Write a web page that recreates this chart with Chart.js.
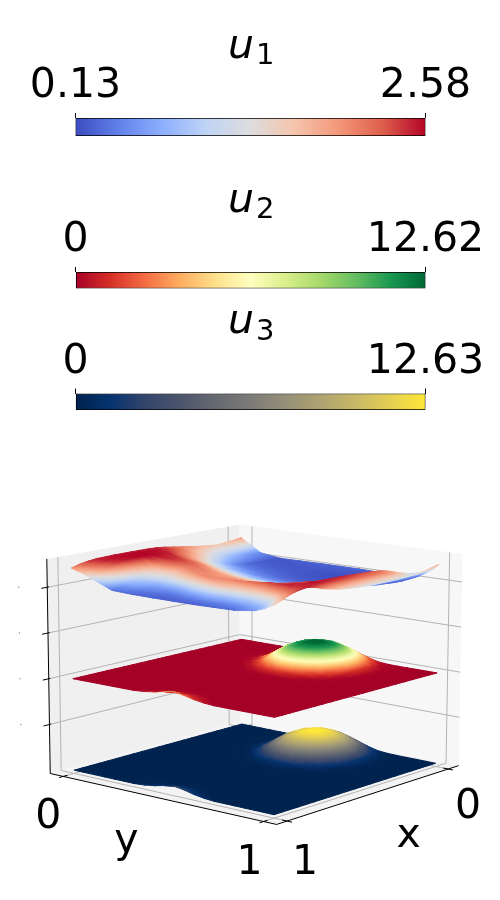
<!DOCTYPE html>
<html>
<head>
<meta charset="utf-8">
<script src="https://cdn.jsdelivr.net/npm/chart.js@4"></script>
<style>
  html, body { margin: 0; background: #fff; }
  canvas { position: absolute; left: 0; }
</style>
</head>
<body>
<canvas id="bar1" width="500" height="140" style="top:0"></canvas>
<canvas id="bar2" width="500" height="130" style="top:165px"></canvas>
<canvas id="bar3" width="500" height="120" style="top:295px"></canvas>
<canvas id="surface" width="500" height="400" style="top:500px"></canvas>
<script>
const barSubs = ['1', '2', '3'];
const barMins = [0.13, 0, 0];
const barMaxs = [2.58, 12.62, 12.63];

const coolwarm = ['#3b4cc0', '#6282ea', '#8db0fe', '#c0d4f5', '#dddddd', '#f5c4ad', '#f4987a', '#de604d', '#b40426'];
const rdYlGn = ['#a50026', '#d73027', '#f46d43', '#fdae61', '#fee08b', '#ffffbf', '#d9ef8b', '#a6d96a', '#66bd63', '#1a9850', '#006837'];
const cividis = ['#00224e', '#05336f', '#34456b', '#4c556c', '#666970', '#7c7b78', '#958f78', '#aea371', '#c8b866', '#e5cf52', '#fee838'];

const gridX = [0, .05, .1, .15, .2, .25, .3, .35, .4, .45, .5, .55, .6, .65, .7, .75, .8, .85, .9, .95, 1];
const gridY = [0, .05, .1, .15, .2, .25, .3, .35, .4, .45, .5, .55, .6, .65, .7, .75, .8, .85, .9, .95, 1];
const gridY1 = [0, .05, .1, .2, .3, .4, .5, .6, .7, .8, .9, .95, .975, 1];

// rows run along gridX, columns along gridY1
const u1 = [
  [1.9, 1.2, .5, .2, .22, .25, .25, .25, .2, .2, .4, 1.05, 1.4, 1.9],
  [1.75, 1.25, .55, .2, .2, .22, .22, .2, .17, .18, .33, 1.1, 1.3, 1.7],
  [1.65, 1.3, .65, .22, .2, .2, .18, .17, .16, .17, .28, 1.15, 1.2, 1.5],
  [1.6, 1.3, .8, .26, .22, .2, .17, .15, .15, .18, .3, 1.4, 1.3, 1.4],
  [1.7, 1.35, .95, .32, .26, .22, .18, .15, .15, .2, .38, 1.7, 1.6, 1.35],
  [1.8, 1.45, 1.1, .45, .32, .26, .2, .17, .16, .22, .45, 2, 1.85, 1.3],
  [1.95, 1.65, 1.35, .65, .42, .32, .24, .2, .18, .28, .58, 2.2, 2, 1.3],
  [2.1, 1.85, 1.6, .9, .6, .42, .3, .26, .22, .36, .75, 2.3, 2.1, 1.3],
  [2.25, 2.1, 1.85, 1.2, .8, .55, .42, .36, .32, .48, .98, 2.35, 2.15, 1.3],
  [2.4, 2.3, 2.1, 1.5, 1.05, .8, .6, .5, .45, .65, 1.2, 2.4, 2.2, 1.35],
  [2.5, 2.45, 2.3, 1.85, 1.35, 1.05, .82, .7, .62, .85, 1.5, 2.45, 2.3, 1.4],
  [2.53, 2.55, 2.5, 2.15, 1.75, 1.35, 1.05, .92, .85, 1.1, 1.75, 2.48, 2.35, 1.5],
  [2.55, 2.57, 2.55, 2.4, 2.1, 1.65, 1.35, 1.2, 1.1, 1.35, 2, 2.5, 2.4, 1.6],
  [2.55, 2.58, 2.58, 2.45, 2.25, 1.95, 1.65, 1.5, 1.35, 1.6, 2.2, 2.52, 2.45, 1.8],
  [2.55, 2.58, 2.58, 2.2, 2.1, 2.1, 1.9, 1.75, 1.6, 1.85, 2.35, 2.55, 2.5, 2],
  [2.55, 2.57, 2.55, 1.65, 1.6, 2.05, 2, 1.95, 1.85, 2.1, 2.45, 2.52, 2.5, 2.3],
  [2.52, 2.55, 2.5, 1.35, 1.2, 1.6, 2.05, 2.05, 2.15, 2.35, 2.5, 2.45, 2.45, 2.5],
  [2.5, 2.5, 2.4, 1, .7, .8, 1.3, 1.7, 1.6, 1.7, 2.1, 2.25, 2.3, 2.4],
  [2.4, 2.35, 2.2, .8, .5, .42, .6, .85, .85, .95, 1.3, 1.8, 2, 2.2],
  [2.25, 2.1, 1.9, .55, .35, .3, .33, .4, .42, .55, .85, 1.35, 1.6, 1.85],
  [2, 1.65, 1.25, .35, .27, .25, .24, .24, .28, .32, .6, .95, 1.25, 1.5]
];

const u2 = [
  [0, 0, 0, 0, 0, 0, .08, .55, 1.9, 3.6, 4.9, 4.9, 3.6, 1.9, .55, .08, 0, 0, 0, 0, 0],
  [0, 0, 0, 0, 0, .03, .3, 1.9, 4.9, 7.3, 8.7, 8.7, 7.3, 4.9, 1.9, .3, .03, 0, 0, 0, 0],
  [0, 0, 0, 0, 0, .08, .85, 3.6, 7.3, 10.1, 11.4, 11.4, 10.1, 7.3, 3.6, .85, .08, 0, 0, 0, 0],
  [0, 0, 0, 0, 0, .12, 1.2, 4.9, 8.7, 11.4, 12.6, 12.62, 11.4, 8.7, 4.9, 1.2, .12, 0, 0, 0, 0],
  [0, 0, 0, 0, 0, .12, 1.2, 4.9, 8.7, 11.4, 12.6, 12.6, 11.4, 8.7, 4.9, 1.2, .12, 0, 0, 0, 0],
  [0, 0, 0, 0, 0, .08, .85, 3.6, 7.3, 10.1, 11.4, 11.4, 10.1, 7.3, 3.6, .85, .08, 0, 0, 0, 0],
  [0, 0, 0, 0, 0, .03, .3, 1.9, 4.9, 7.3, 8.7, 8.7, 7.3, 4.9, 1.9, .3, .03, 0, 0, 0, 0],
  [0, 0, 0, 0, 0, 0, .08, .55, 1.9, 3.6, 4.9, 4.9, 3.6, 1.9, .55, .08, 0, 0, 0, 0, 0],
  [0, 0, 0, 0, 0, 0, 0, .08, .3, .85, 1.2, 1.2, .85, .3, .08, 0, 0, 0, 0, 0, 0],
  [0, 0, 0, 0, 0, 0, 0, 0, .03, .08, .12, .12, .08, .03, 0, 0, 0, 0, 0, 0, 0],
  [0, 0, 0, 0, 0, 0, 0, 0, 0, 0, 0, 0, 0, 0, 0, 0, 0, 0, 0, 0, 0],
  [0, 0, 0, 0, 0, 0, 0, 0, 0, 0, 0, 0, 0, 0, 0, 0, 0, 0, 0, 0, 0],
  [0, 0, 0, 0, 0, 0, 0, 0, 0, 0, 0, 0, 0, 0, 0, 0, 0, 0, 0, 0, 0],
  [0, 0, 0, 0, 0, 0, 0, 0, 0, 0, 0, 0, 0, 0, 0, 0, 0, 0, 0, 0, 0],
  [0, 0, 0, 0, 0, 0, 0, 0, 0, 0, 0, 0, 0, 0, 0, 0, 0, 0, 0, 0, 0],
  [0, 0, 0, 0, 0, 0, 0, 0, 0, 0, 0, 0, 0, 0, 0, 0, 0, 0, 0, 0, 0],
  [0, 0, 0, 0, 0, 0, 0, 0, 0, 0, 0, 0, 0, 0, 0, 0, 0, 0, 0, 0, 0],
  [0, 0, 0, 0, 0, 0, 0, 0, 0, 0, 0, 0, 0, 0, 0, 0, 0, 0, 0, 0, 0],
  [0, 0, 0, 0, 0, 0, 0, 0, 0, .15, .25, .15, 0, 0, 0, 0, 0, 0, 0, 0, 0],
  [0, 0, 0, 0, 0, 0, 0, 0, .4, .9, 1.2, .9, .4, 0, 0, 0, 0, 0, 0, 0, 0],
  [0, 0, 0, 0, 0, 0, 0, .4, 1.2, 2.4, 3.2, 2.4, 1.2, .4, 0, 0, 0, 0, 0, 0, 0]
];

const u3 = [
  [0, 0, 0, 0, 0, 0, .08, .55, 1.9, 3.6, 4.9, 4.9, 3.6, 1.9, .55, .08, 0, 0, 0, 0, 0],
  [0, 0, 0, 0, 0, .03, .3, 1.9, 4.9, 7.3, 8.7, 8.7, 7.3, 4.9, 1.9, .3, .03, 0, 0, 0, 0],
  [0, 0, 0, 0, 0, .08, .85, 3.6, 7.3, 10.1, 11.4, 11.4, 10.1, 7.3, 3.6, .85, .08, 0, 0, 0, 0],
  [0, 0, 0, 0, 0, .12, 1.2, 4.9, 8.7, 11.4, 12.6, 12.63, 11.4, 8.7, 4.9, 1.2, .12, 0, 0, 0, 0],
  [0, 0, 0, 0, 0, .12, 1.2, 4.9, 8.7, 11.4, 12.6, 12.6, 11.4, 8.7, 4.9, 1.2, .12, 0, 0, 0, 0],
  [0, 0, 0, 0, 0, .08, .85, 3.6, 7.3, 10.1, 11.4, 11.4, 10.1, 7.3, 3.6, .85, .08, 0, 0, 0, 0],
  [0, 0, 0, 0, 0, .03, .3, 1.9, 4.9, 7.3, 8.7, 8.7, 7.3, 4.9, 1.9, .3, .03, 0, 0, 0, 0],
  [0, 0, 0, 0, 0, 0, .08, .55, 1.9, 3.6, 4.9, 4.9, 3.6, 1.9, .55, .08, 0, 0, 0, 0, 0],
  [0, 0, 0, 0, 0, 0, 0, .08, .3, .85, 1.2, 1.2, .85, .3, .08, 0, 0, 0, 0, 0, 0],
  [0, 0, 0, 0, 0, 0, 0, 0, .03, .08, .12, .12, .08, .03, 0, 0, 0, 0, 0, 0, 0],
  [0, 0, 0, 0, 0, 0, 0, 0, 0, 0, 0, 0, 0, 0, 0, 0, 0, 0, 0, 0, 0],
  [0, 0, 0, 0, 0, 0, 0, 0, 0, 0, 0, 0, 0, 0, 0, 0, 0, 0, 0, 0, 0],
  [0, 0, 0, 0, 0, 0, 0, 0, 0, 0, 0, 0, 0, 0, 0, 0, 0, 0, 0, 0, 0],
  [0, 0, 0, 0, 0, 0, 0, 0, 0, 0, 0, 0, 0, 0, 0, 0, 0, 0, 0, 0, 0],
  [0, 0, 0, 0, 0, 0, 0, 0, 0, 0, 0, 0, 0, 0, 0, 0, 0, 0, 0, 0, 0],
  [0, 0, 0, 0, 0, 0, 0, 0, 0, 0, 0, 0, 0, 0, 0, 0, 0, 0, 0, 0, 0],
  [0, 0, 0, 0, 0, 0, 0, 0, 0, 0, 0, 0, 0, 0, 0, 0, 0, 0, 0, 0, 0],
  [0, 0, 0, 0, 0, 0, 0, 0, 0, 0, 0, 0, 0, 0, 0, 0, 0, 0, 0, 0, 0],
  [0, 0, 0, 0, 0, 0, 0, 0, 0, .15, .25, .15, 0, 0, 0, 0, 0, 0, 0, 0, 0],
  [0, 0, 0, 0, 0, 0, 0, 0, .4, .9, 1.2, .9, .4, 0, 0, 0, 0, 0, 0, 0, 0],
  [0, 0, 0, 0, 0, 0, 0, .4, 1.2, 2.4, 3.2, 2.4, 1.2, .4, 0, 0, 0, 0, 0, 0, 0]
];

const zTicks = [1, 2, 3, 4];
const axisTicks = [0, 1];

const FONT = '"DejaVu Sans"';

// the colour bars
const barTops = [118, 272, 393.5];
const barBottoms = [136, 288.5, 410];
const canvasTops = [0, 165, 295];
const canvasHeights = [140, 130, 120];

const barTitle = {
  id: 'barTitle',
  afterDraw(chart, args, opts) {
    const { ctx, chartArea } = chart;
    ctx.save();
    ctx.fillStyle = '#000';
    ctx.textAlign = 'left';
    ctx.textBaseline = 'alphabetic';
    ctx.font = 'italic 41px ' + FONT;
    ctx.fillText('u', 228, chartArea.top - 60.5);
    ctx.font = '29px ' + FONT;
    ctx.fillText(opts.sub, 256, chartArea.top - 54);
    ctx.restore();
  }
};

const makeBar = (n, stops) => {
  const min = barMins[n], max = barMaxs[n];
  new Chart(document.getElementById('bar' + (n + 1)), {
    type: 'bar',
    plugins: [barTitle],
    data: {
      labels: ['u' + barSubs[n]],
      datasets: [{
        data: [[min, max]],
        borderColor: '#000',
        borderWidth: 1,
        borderSkipped: false,
        barPercentage: 1,
        categoryPercentage: 1,
        backgroundColor: c => {
          const a = c.chart.chartArea;
          if (!a) return stops[0];
          const g = c.chart.ctx.createLinearGradient(a.left, 0, a.right, 0);
          stops.forEach((s, i) => g.addColorStop(i / (stops.length - 1), s));
          return g;
        }
      }]
    },
    options: {
      indexAxis: 'y',
      responsive: false,
      animation: false,
      events: [],
      layout: {
        padding: {
          left: 75.5,
          right: 74.5,
          top: barTops[n] - canvasTops[n] - 60,
          bottom: canvasTops[n] + canvasHeights[n] - barBottoms[n]
        }
      },
      plugins: { legend: { display: false }, tooltip: { enabled: false }, barTitle: { sub: barSubs[n] } },
      scales: {
        y: { display: false },
        x: {
          type: 'linear',
          position: 'top',
          min: min,
          max: max,
          afterBuildTicks: s => { s.ticks = [{ value: min }, { value: max }]; },
          afterFit: s => { s.height = 60; },
          border: { display: false },
          grid: { drawOnChartArea: false, tickLength: 5, color: '#000', lineWidth: 1 },
          ticks: {
            autoSkip: false,
            maxRotation: 0,
            padding: 2,
            color: '#000',
            font: { family: FONT, size: 41 },
            callback: v => String(v)
          }
        }
      }
    }
  });
};

makeBar(0, coolwarm);
makeBar(1, rdYlGn);
makeBar(2, cividis);

// the 3d box: view of its eight corners
const floorBack = [240, 722], floorLeft = [47, 775], floorFront = [277, 827], floorRight = [462, 767];
const topBack = [239, 521], topLeft = [43.5, 556], topFront = [278, 592], topRight = [466, 551];
const boxMargin = 0.065;
const zMin = -0.0714, zMax = 4.62;
const xMinBox = -boxMargin, xMaxBox = 1 + boxMargin;

const mix = (a, b, t) => a + (b - a) * t;
const project = (x, y, z) => {
  const tx = (x + boxMargin) / (1 + 2 * boxMargin);
  const ty = (y + boxMargin) / (1 + 2 * boxMargin);
  const tz = (z - zMin) / (zMax - zMin);
  const at = k => {
    const lo = mix(mix(floorBack[k], floorLeft[k], tx), mix(floorRight[k], floorFront[k], tx), ty);
    const hi = mix(mix(topBack[k], topLeft[k], tx), mix(topRight[k], topFront[k], tx), ty);
    return mix(lo, hi, tz);
  };
  return { x: at(0), y: at(1) };
};

const hexRgb = h => [1, 3, 5].map(i => parseInt(h.substr(i, 2), 16));
const cmap = (stops, t) => {
  const p = Math.min(Math.max(t, 0), 1) * (stops.length - 1);
  const i = Math.min(Math.floor(p), stops.length - 2);
  const a = hexRgb(stops[i]), b = hexRgb(stops[i + 1]);
  const c = a.map((v, k) => Math.round(mix(v, b[k], p - i)));
  return `rgb(${c[0]},${c[1]},${c[2]})`;
};

const triangleFill = (chart, pts, vals, stops, lo, hi) => {
  const sx = chart.scales.x, sy = chart.scales.y;
  const px = pts.map(p => ({ x: sx.getPixelForValue(p.x), y: sy.getPixelForValue(p.y) }));
  const ax = px[1].x - px[0].x, ay = px[1].y - px[0].y;
  const bx = px[2].x - px[0].x, by = px[2].y - px[0].y;
  const dv1 = vals[1] - vals[0], dv2 = vals[2] - vals[0];
  const det = ax * by - ay * bx;
  const vmin = Math.min(...vals), vmax = Math.max(...vals);
  if (Math.abs(det) < 0.5 || vmax - vmin < 1e-6) return cmap(stops, ((vmin + vmax) / 2 - lo) / (hi - lo));
  const gx = (dv1 * by - dv2 * ay) / det;
  const gy = (ax * dv2 - bx * dv1) / det;
  const n = gx * gx + gy * gy;
  const g = chart.ctx.createLinearGradient(
    px[0].x + gx * (vmin - vals[0]) / n, px[0].y + gy * (vmin - vals[0]) / n,
    px[0].x + gx * (vmax - vals[0]) / n, px[0].y + gy * (vmax - vals[0]) / n
  );
  for (let k = 0; k <= 6; k++) {
    const v = vmin + (vmax - vmin) * k / 6;
    g.addColorStop(k / 6, cmap(stops, (v - lo) / (hi - lo)));
  }
  return g;
};

const polygon = (pts, color) => ({
  data: pts, showLine: true, fill: 'shape', backgroundColor: color, borderWidth: 0, pointRadius: 0
});
const polyline = (pts, color, width) => ({
  data: pts, showLine: true, fill: false, borderColor: color, borderWidth: width, pointRadius: 0
});

const painted = [];

// panes
painted.push(polygon([project(xMinBox, xMinBox, zMin), project(xMaxBox, xMinBox, zMin), project(xMaxBox, xMinBox, zMax), project(xMinBox, xMinBox, zMax)], '#f0f0f0'));
painted.push(polygon([project(xMinBox, xMinBox, zMin), project(xMinBox, xMaxBox, zMin), project(xMinBox, xMaxBox, zMax), project(xMinBox, xMinBox, zMax)], '#f7f7f7'));
painted.push(polygon([project(xMinBox, xMinBox, zMin), project(xMaxBox, xMinBox, zMin), project(xMaxBox, xMaxBox, zMin), project(xMinBox, xMaxBox, zMin)], '#f3f3f3'));

// grid lines
const gridColor = '#b4b4b4';
zTicks.forEach(z => {
  painted.push(polyline([project(xMaxBox, xMinBox, z), project(xMinBox, xMinBox, z), project(xMinBox, xMaxBox, z)], gridColor, 1));
});
axisTicks.forEach(t => {
  painted.push(polyline([project(t, xMaxBox, zMin), project(t, xMinBox, zMin), project(t, xMinBox, zMax)], gridColor, 1));
  painted.push(polyline([project(xMaxBox, t, zMin), project(xMinBox, t, zMin), project(xMinBox, t, zMax)], gridColor, 1));
});

// axis lines and ticks
const axisBlack = '#000';
painted.push(polyline([project(xMaxBox, xMinBox, zMax), project(xMaxBox, xMinBox, zMin), project(xMaxBox, xMaxBox, zMin), project(xMinBox, xMaxBox, zMin)], axisBlack, 1));
zTicks.forEach(z => {
  painted.push(polyline([project(xMaxBox + .035, xMinBox, z), project(xMaxBox - .01, xMinBox, z)], axisBlack, 1));
});
axisTicks.forEach(t => {
  painted.push(polyline([project(xMaxBox + .025, t, zMin), project(xMaxBox - .025, t, zMin)], axisBlack, 1));
  painted.push(polyline([project(t, xMaxBox + .025, zMin), project(t, xMaxBox - .025, zMin)], axisBlack, 1));
});

// z tick labels are too small to read in the source, they show as specks
painted.push({
  data: zTicks.map(z => {
    const p = project(xMaxBox, xMinBox, z);
    return { x: p.x - 29, y: p.y };
  }),
  showLine: false,
  pointRadius: 0.7,
  pointBorderWidth: 0,
  pointBackgroundColor: '#8a8a8a'
});

const addSurface = (values, ys, stops, lo, hi, offset, scale) => {
  const corner = (i, j) => project(gridX[i], ys[j], offset + scale * values[i][j]);
  const triangle = (a, b, c) => {
    const pts = [corner(a[0], a[1]), corner(b[0], b[1]), corner(c[0], c[1])];
    const vals = [values[a[0]][a[1]], values[b[0]][b[1]], values[c[0]][c[1]]];
    let paint = null;
    // options get resolved once before the first layout, scales have no pixels yet
    const shade = ctx => {
      if (!ctx.chart.chartArea) return '#000';
      return paint || (paint = triangleFill(ctx.chart, pts, vals, stops, lo, hi));
    };
    painted.push({
      data: [pts[0], pts[1], pts[2], pts[0]],
      showLine: true,
      fill: 'shape',
      backgroundColor: shade,
      borderColor: shade,
      borderWidth: 1,
      pointRadius: 0,
      pointBackgroundColor: '#000',
      pointBorderColor: '#000'
    });
  };
  for (let i = 0; i < gridX.length - 1; i++) {
    for (let j = 0; j < ys.length - 1; j++) {
      triangle([i, j], [i + 1, j], [i + 1, j + 1]);
      triangle([i, j], [i, j + 1], [i + 1, j + 1]);
    }
  }
};

const zScaleTall = 0.0408;
addSurface(u3, gridY, cividis, 0, 12.63, 0, zScaleTall);
addSurface(u2, gridY, rdYlGn, 0, 12.62, 2, zScaleTall);
addSurface(u1, gridY1, coolwarm, 0.13, 2.58, 4, 0.21);

const boxLabels = [
  { text: '0', at: [xMaxBox, 0], dx: -15, dy: 41 },
  { text: '1', at: [xMaxBox, 1], dx: -14, dy: 42 },
  { text: 'y', at: [xMaxBox, 0.5], dx: -37, dy: 42 },
  { text: '1', at: [1, xMaxBox], dx: 18, dy: 42 },
  { text: '0', at: [0, xMaxBox], dx: 20, dy: 38 },
  { text: 'x', at: [0.5, xMaxBox], dx: 41, dy: 41 }
];

const boxText = {
  id: 'boxText',
  afterDatasetsDraw(chart) {
    const { ctx, scales } = chart;
    ctx.save();
    ctx.fillStyle = '#000';
    ctx.font = '41px ' + FONT;
    ctx.textAlign = 'center';
    ctx.textBaseline = 'middle';
    boxLabels.forEach(l => {
      const p = project(l.at[0], l.at[1], zMin);
      ctx.fillText(l.text, scales.x.getPixelForValue(p.x) + l.dx, scales.y.getPixelForValue(p.y) + l.dy);
    });
    ctx.restore();
  }
};

// chart.js paints the last dataset first
new Chart(document.getElementById('surface'), {
  type: 'scatter',
  plugins: [boxText],
  data: { datasets: painted.reverse() },
  options: {
    responsive: false,
    animation: false,
    events: [],
    layout: { padding: 0 },
    plugins: { legend: { display: false }, tooltip: { enabled: false } },
    scales: {
      x: { type: 'linear', display: false, min: 0, max: 500 },
      y: { type: 'linear', display: false, min: 500, max: 900, reverse: true }
    }
  }
});
</script>
</body>
</html>
